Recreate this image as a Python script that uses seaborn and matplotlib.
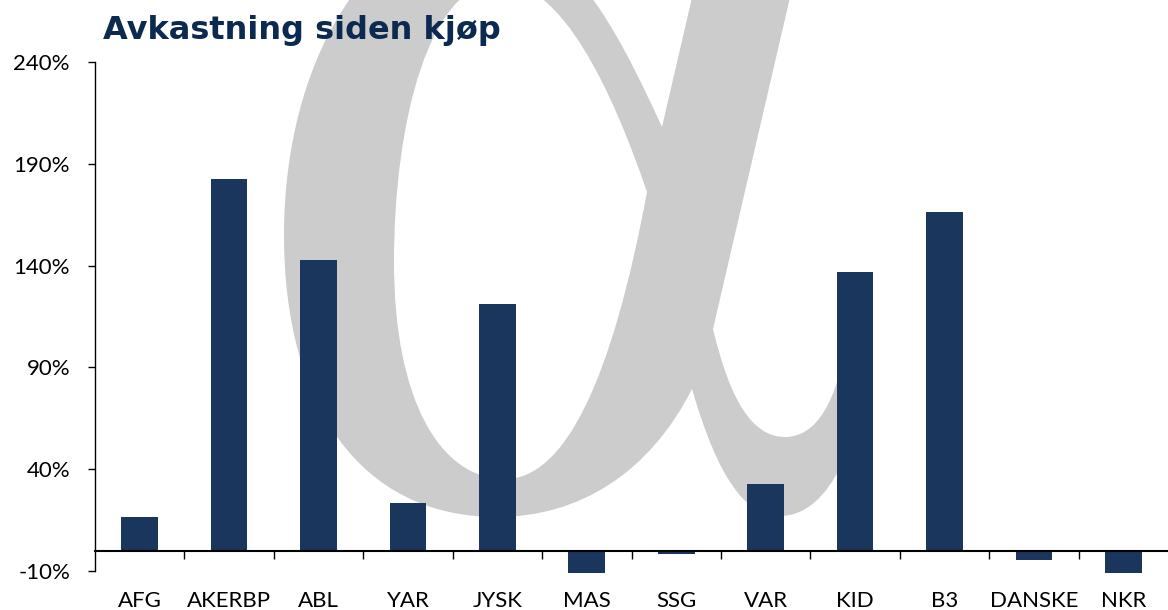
import matplotlib
matplotlib.use("Agg")
import matplotlib.pyplot as plt
import seaborn as sns
import pandas as pd
from matplotlib.path import Path
from matplotlib.patches import PathPatch
from matplotlib.transforms import Affine2D

categories = ["AFG", "AKERBP", "ABL", "YAR", "JYSK", "MAS", "SSG", "VAR", "KID", "B3", "DANSKE", "NKR"]
returns_pct = [16.5, 182.5, 142.7, 23.4, 121.0, -11.0, -1.6, 32.7, 136.8, 166.3, -4.4, -11.0]
y_ticks = [-10, 40, 90, 140, 190, 240]
title_text = "Avkastning siden kjøp"

sns.set_theme(style="white")
plt.rcParams['font.family'] = ['Lato', 'DejaVu Sans']

df = pd.DataFrame({"ticker": categories, "ret": returns_pct})

fig = plt.figure(figsize=(11.68, 6.10), dpi=100)
W, H = 1168, 610
ax = fig.add_axes([95 / W, 1 - 571 / H, (1168 - 95) / W, (571 - 62) / H])
ax.patch.set_visible(False)

bar_color = "#1b365d"
sns.barplot(data=df, x="ticker", y="ret", color=bar_color, width=0.41,
            saturation=1, ax=ax, zorder=2)
for p in ax.patches:
    p.set_clip_on(False)
    p.set_edgecolor("none")

# decorative alpha watermark (outline in pixel space, y downward)
M, L, C, Z = Path.MOVETO, Path.LINETO, Path.CURVE4, Path.CLOSEPOLY
verts, codes = [], []
def mv(p): verts.append(p); codes.append(M)
def ln(p): verts.append(p); codes.append(L)
def cv(a, b, c): verts.extend([a, b, c]); codes.extend([C, C, C])
def cl(): verts.append((0, 0)); codes.append(Z)

# outer contour
mv((710, -80))
ln((808, -80))
ln((713, 329))
cv((730, 400), (752, 437), (785, 437))
cv((815, 437), (838, 405), (848, 330))
ln((870, 335))
cv((864, 440), (830, 516), (780, 516))
cv((745, 516), (718, 478), (692, 389))
cv((650, 472), (580, 517), (497, 517))
cv((360, 517), (284, 405), (284, 235))
cv((284, 60), (370, -75), (472, -75))
cv((565, -75), (615, 25), (662, 127))
ln((710, -80))
cl()
# counter
mv((500, -18))
cv((430, -18), (394, 120), (394, 262))
cv((394, 400), (440, 479), (505, 479))
cv((565, 479), (612, 380), (647, 192))
cv((612, 90), (562, -18), (500, -18))
cl()

wm_path = Path(verts, codes)
to_fig = Affine2D().scale(1 / W, -1 / H).translate(0, 1) + fig.transFigure
wm = PathPatch(wm_path, facecolor="#cccccc", edgecolor="none",
               transform=to_fig, zorder=-1)
fig.add_artist(wm)

ax.set_xlim(-0.5, len(categories) - 0.5)
ax.set_ylim(-10, 240)
ax.set_yticks(y_ticks)
ax.set_yticklabels([f"{v}%" for v in y_ticks], fontsize=16, color="black")
ax.set_xlabel("")
ax.set_ylabel("")

for s in ["top", "right"]:
    ax.spines[s].set_visible(False)
ax.spines["left"].set_color("black")
ax.spines["left"].set_linewidth(1.0)
ax.spines["bottom"].set_position(("data", 0))
ax.spines["bottom"].set_color("black")
ax.spines["bottom"].set_linewidth(1.5)
ax.spines["bottom"].set_zorder(3)

ax.tick_params(axis="y", which="major", left=True, direction="out", length=5,
               width=1, color="black", pad=13)
ax.set_xticks(range(len(categories)))
ax.set_xticklabels(categories, fontsize=16, color="black")
ax.set_xticks([i + 0.5 for i in range(len(categories) - 1)], minor=True)
ax.tick_params(axis="x", which="major", bottom=False, length=0, pad=29)
ax.tick_params(axis="x", which="minor", bottom=True, direction="out",
               length=6, width=1, color="black")

fig.text(103 / W, 1 - 30 / H, title_text, fontsize=23, fontweight="bold",
         family="DejaVu Sans", color="#0c2a4f", ha="left", va="center", zorder=5)

fig.savefig("out.png", dpi=100)
